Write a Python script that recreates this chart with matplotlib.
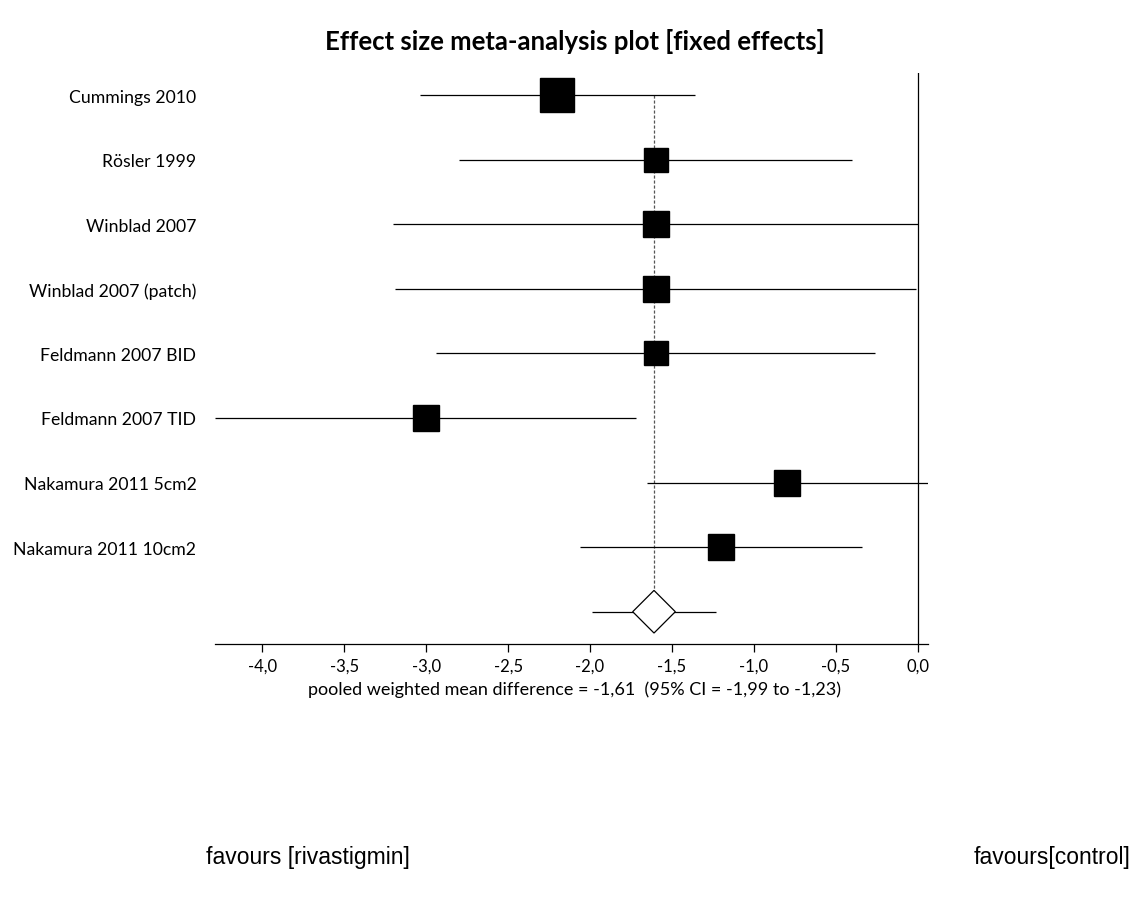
import numpy as np
import matplotlib
matplotlib.use("Agg")
import matplotlib.pyplot as plt
from matplotlib.patches import Polygon
from matplotlib.ticker import FuncFormatter

# study estimates (mean difference) with 95% CI and relative weight (%)
studies = ["Cummings 2010", "Rösler 1999", "Winblad 2007", "Winblad 2007 (patch)",
           "Feldmann 2007 BID", "Feldmann 2007 TID", "Nakamura 2011 5cm2",
           "Nakamura 2011 10cm2"]
effect = [-2.20, -1.60, -1.60, -1.60, -1.60, -3.00, -0.80, -1.20]
ci_lo = [-3.04, -2.80, -3.20, -3.19, -2.94, -4.29, -1.65, -2.06]
ci_hi = [-1.36, -0.40, 0.00, -0.01, -0.26, -1.72, 0.06, -0.34]
weight = [20.7, 10.3, 12.1, 12.1, 9.5, 11.2, 12.1, 12.1]

pooled_mean = -1.61
pooled_lo = -1.99
pooled_hi = -1.23

FONT = "Lato"

fig = plt.figure(figsize=(11.4, 9.03), dpi=100)
ax = fig.add_axes([0.1882, 0.2857, 0.6257, 0.6323])

rows = np.arange(1, len(studies) + 1)
pooled_row = len(studies) + 1

# confidence intervals
ax.hlines(rows, ci_lo, ci_hi, color="black", lw=0.9, zorder=2)

# weighted squares
w = np.array(weight)
sizes = 34 * np.sqrt(w / w.max()) * 0.72
for r, e, s in zip(rows, effect, sizes):
    ax.plot(e, r, marker="s", ms=s, color="black", mec="black", zorder=3)

# pooled estimate
ax.vlines(pooled_mean, rows[0], pooled_row - 0.33, color="#555555", lw=0.9,
          linestyles=(0, (2.5, 1.5)), zorder=1)
ax.hlines(pooled_row, pooled_lo, pooled_hi, color="black", lw=0.9, zorder=2)
dw, dh = 0.13, 0.33
diamond = Polygon([[pooled_mean - dw, pooled_row], [pooled_mean, pooled_row - dh],
                   [pooled_mean + dw, pooled_row], [pooled_mean, pooled_row + dh]],
                  closed=True, facecolor="white", edgecolor="black", lw=0.9, zorder=3)
ax.add_patch(diamond)

# line of no effect
ax.axvline(0, color="black", lw=0.9, zorder=1)

ax.set_xlim(min(ci_lo), max(ci_hi))
ax.set_ylim(pooled_row + 0.5, 0.66)
ax.set_xticks(np.arange(-4.0, 0.01, 0.5))
ax.xaxis.set_major_formatter(FuncFormatter(lambda v, p: f"{v:.1f}".replace(".", ",")))
ax.set_yticks(rows)
ax.set_yticklabels(studies)

for sp in ["top", "right", "left"]:
    ax.spines[sp].set_visible(False)
ax.spines["bottom"].set_linewidth(0.9)
ax.tick_params(axis="y", left=False, pad=9.5)
ax.tick_params(axis="x", direction="out", length=6, width=0.9, pad=4)
for lab in ax.get_xticklabels():
    lab.set_fontfamily(FONT)
    lab.set_fontsize(12)
for lab in ax.get_yticklabels():
    lab.set_fontfamily(FONT)
    lab.set_fontsize(12.7)

fig.text(0.504, 0.9535, "Effect size meta-analysis plot [fixed effects]",
         ha="center", va="center", fontsize=18.5, fontweight="bold", family=FONT)
fig.text(0.504, 0.2359,
         "pooled weighted mean difference = -1,61  (95% CI = -1,99 to -1,23)",
         ha="center", va="center", fontsize=13, family=FONT)
fig.text(0.181, 0.050, "favours [rivastigmin]", ha="left", va="center",
         fontsize=16.5, family="Liberation Sans")
fig.text(0.992, 0.050, "favours[control]", ha="right", va="center",
         fontsize=16.5, family="Liberation Sans")

fig.savefig("out.png", dpi=100)
